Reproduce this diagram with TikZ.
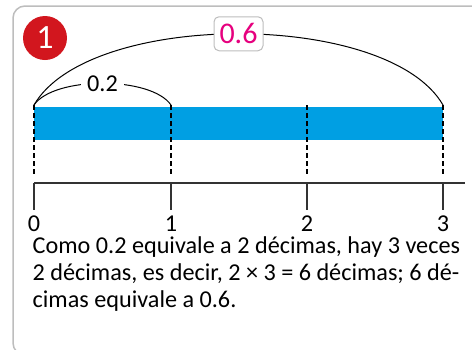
\documentclass[tikz,border=0pt]{standalone}
\usepackage{fontspec}
\setmainfont{Carlito}
\usepackage{tikz}
\usetikzlibrary{positioning}
\usepackage{xcolor}
\definecolor{barblue}{HTML}{009FE3}
\definecolor{badgered}{HTML}{D2161E}
\definecolor{pinkval}{HTML}{E6007E}
\definecolor{framegray}{HTML}{BDBDBD}

\begin{document}
\begin{tikzpicture}[x=1pt,y=-1pt,font=\fontsize{24.2}{27}\selectfont,
  guide/.style={line width=1.8pt,dash pattern=on 5pt off 3pt},
  tickline/.style={draw=black!80,line width=1.2pt},
  brace/.style={line width=1pt},
  num/.style={inner sep=0pt,anchor=base},
  val/.style={fill=white,inner xsep=6pt,inner ysep=1pt},
  bigval/.style={draw=framegray,fill=white,rounded corners=5pt,text=pinkval,
                 line width=1pt,minimum width=49pt,minimum height=34pt,inner sep=0pt,
                 font=\fontsize{30}{30}\selectfont}]
 \useasboundingbox (0,0) rectangle (472,349);
 \begin{scope}
  \clip (0,0) rectangle (472,349);
  \draw[framegray,line width=1.5pt,rounded corners=12pt] (13,6) rectangle (500,355);
 \end{scope}
 \node[circle,fill=badgered,minimum size=44pt,inner sep=0pt,text=white,
       font=\fontsize{34}{34}\selectfont] (badge) at (45,38) {1};
 % bar and guides
 \node[fill=barblue,minimum width=409pt,minimum height=33.5pt,inner sep=0pt,
       anchor=north west] (bar) at (34,106.5) {};
 \coordinate (t0) at (34,105); \coordinate (t1) at (171,105);
 \coordinate (t2) at (307,105); \coordinate (t3) at (443,105);
 \coordinate (b0) at (34,176); \coordinate (b1) at (171,176);
 \coordinate (b2) at (307,176); \coordinate (b3) at (443,176);
 \draw[guide](t0)--(b0); \draw[guide](t1)--(b1);
 \draw[guide](t2)--(b2); \draw[guide](t3)--(b3);
 % number line
 \coordinate (a0) at (34,183); \coordinate (a1) at (171,183);
 \coordinate (a2) at (307,183); \coordinate (a3) at (443,183);
 \coordinate (aend) at (465,183);
 \coordinate (k0) at (34,210); \coordinate (k1) at (171,210);
 \coordinate (k2) at (307,210); \coordinate (k3) at (443,210);
 \draw[tickline](a0)--(aend);
 \draw[tickline](a0)--(k0); \draw[tickline](a1)--(k1);
 \draw[tickline](a2)--(k2); \draw[tickline](a3)--(k3);
 \node[num] (n0) at (34,231.5) {0}; \node[num] (n1) at (171,231.5) {1};
 \node[num] (n2) at (307,231.5) {2}; \node[num] (n3) at (443,231.5) {3};
 % arcs
 \draw[brace](t0) .. controls +(55,-95) and +(-55,-95) .. node[bigval,pos=0.5]{0.6} (t3);
 \draw[brace](t0) .. controls +(20,-29) and +(-20,-29) .. node[val,pos=0.5]{0.2} (t1);
 \node[anchor=north west,align=left,inner sep=0pt] (note) at (32.5,236)
   {Como 0.2 equivale a 2 décimas, hay 3 veces\\
    2 décimas, es decir, 2 × 3 = 6 décimas; 6 dé-\\
    cimas equivale a 0.6.};
\end{tikzpicture}
\end{document}
